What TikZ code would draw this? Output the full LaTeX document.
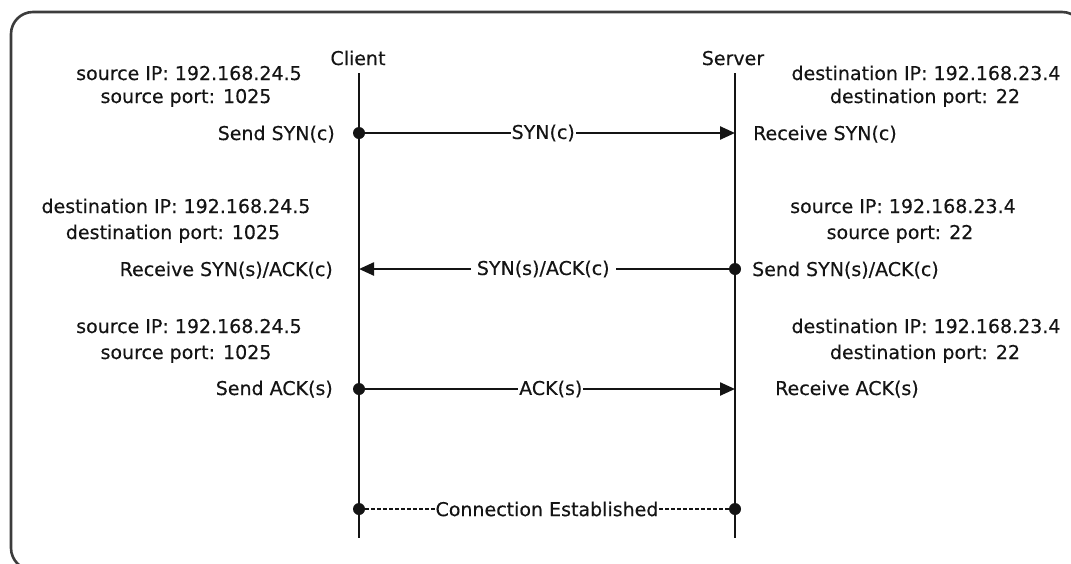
\documentclass[tikz,border=0pt]{standalone}
\usepackage{fontspec}
\setmainfont[FakeBold=0.35]{DejaVu Sans}
\usetikzlibrary{arrows.meta}
\definecolor{ink}{HTML}{141414}
\definecolor{framegray}{HTML}{3C3C3C}
\begin{document}
\begin{tikzpicture}[x=1pt,y=-1pt,
  every node/.style={font=\fontsize{19}{23}\selectfont, text=ink, inner sep=0pt},
  lifeline/.style={draw=ink, line width=2.6pt},
  msg/.style={draw=ink, line width=2.4pt, -{Triangle[length=15pt,width=13pt]}},
  estab/.style={draw=ink, line width=1.8pt, dash pattern=on 3.5pt off 2.5pt},
  dotmark/.style={fill=ink},
  msglbl/.style={fill=white, inner xsep=1pt, inner ysep=2pt},
  gaplbl/.style={fill=white, inner xsep=6pt, inner ysep=2pt},
  infol/.style={anchor=base},
  sendl/.style={anchor=base east},
  recvr/.style={anchor=base west}
]
\useasboundingbox (0,0) rectangle (1071,563);

% outer frame, cut off by the page on the right and at the bottom
\begin{scope}
  \clip (0,0) rectangle (1071,563);
  \draw[framegray, line width=2.6pt, rounded corners=22pt] (11,12) rectangle (1084,570);
\end{scope}

% lifeline ends and message end points
\coordinate (ctop) at (359,73);
\coordinate (cbot) at (359,538);
\coordinate (stop) at (735,73);
\coordinate (sbot) at (735,538);
\coordinate (c1) at (359,133);
\coordinate (s1) at (735,133);
\coordinate (c2) at (359,269);
\coordinate (s2) at (735,269);
\coordinate (c3) at (359,389);
\coordinate (s3) at (735,389);
\coordinate (c4) at (359,509);
\coordinate (s4) at (735,509);

% lifelines
\node[anchor=base] (client) at (358,65) {Client};
\node[anchor=base] (server) at (733,65) {Server};
\draw[lifeline] (ctop) -- (cbot);
\draw[lifeline] (stop) -- (sbot);

% SYN
\draw[msg] (c1) -- node[msglbl, pos=0.49] (m1) {SYN(c)} (s1);
\fill[dotmark] (c1) circle (6pt);
\node[infol] (cip1) at (189,80) {source IP: 192.168.24.5};
\node[infol] (cport1) at (186,103) {source port: 1025};
\node[sendl] (cact1) at (335,140) {Send SYN(c)};
\node[infol] (sip1) at (926,80) {destination IP: 192.168.23.4};
\node[infol] (sport1) at (925,103) {destination port: 22};
\node[recvr] (sact1) at (753,140) {Receive SYN(c)};

% SYN/ACK
\draw[msg] (s2) -- node[gaplbl, pos=0.51] (m2) {SYN(s)/ACK(c)} (c2);
\fill[dotmark] (s2) circle (6pt);
\node[infol] (cip2) at (176,213) {destination IP: 192.168.24.5};
\node[infol] (cport2) at (173,239) {destination port: 1025};
\node[sendl] (cact2) at (333,276) {Receive SYN(s)/ACK(c)};
\node[infol] (sip2) at (903,213) {source IP: 192.168.23.4};
\node[infol] (sport2) at (900,239) {source port: 22};
\node[recvr] (sact2) at (752,276) {Send SYN(s)/ACK(c)};

% ACK
\draw[msg] (c3) -- node[msglbl, pos=0.51] (m3) {ACK(s)} (s3);
\fill[dotmark] (c3) circle (6pt);
\node[infol] (cip3) at (189,333) {source IP: 192.168.24.5};
\node[infol] (cport3) at (186,359) {source port: 1025};
\node[sendl] (cact3) at (333,395) {Send ACK(s)};
\node[infol] (sip3) at (926,333) {destination IP: 192.168.23.4};
\node[infol] (sport3) at (925,359) {destination port: 22};
\node[recvr] (sact3) at (775,395) {Receive ACK(s)};

% established connection
\draw[estab] (c4) -- node[msglbl, pos=0.5] (m4) {Connection Established} (s4);
\fill[dotmark] (c4) circle (6pt);
\fill[dotmark] (s4) circle (6pt);
\end{tikzpicture}
\end{document}
